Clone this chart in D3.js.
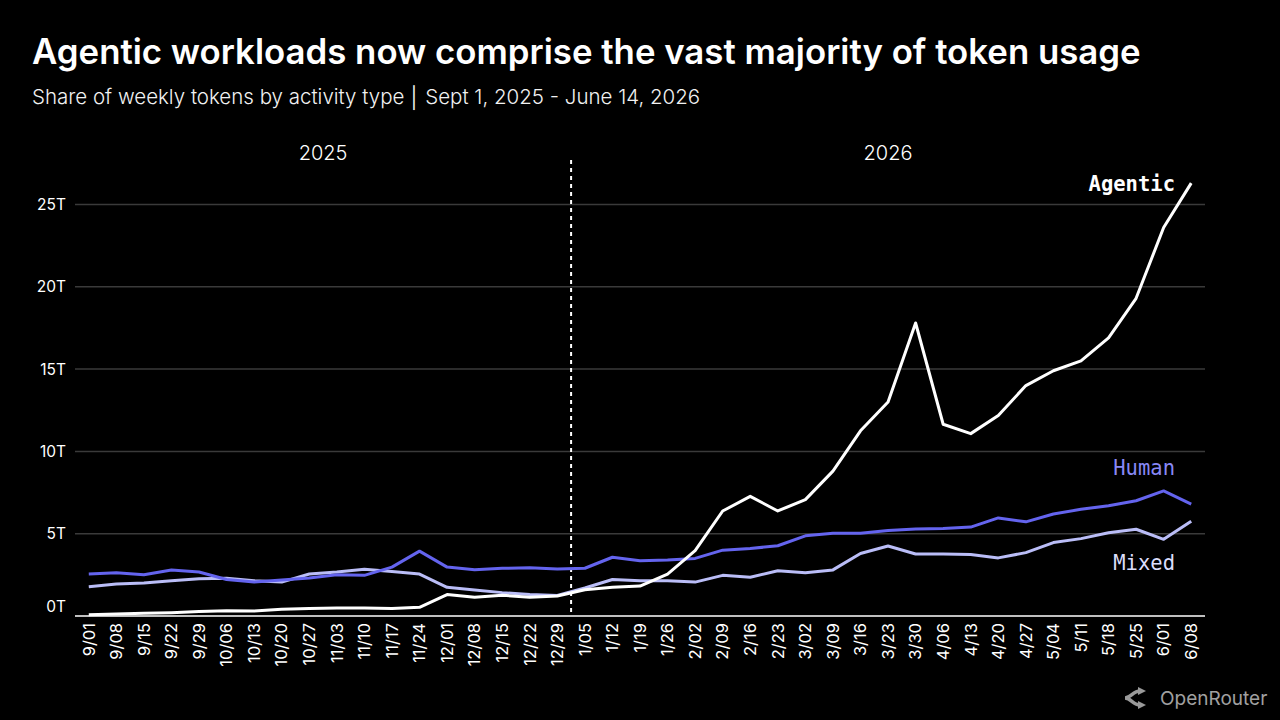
<!DOCTYPE html>
<html>
<head>
<meta charset="utf-8">
<script src="https://cdn.jsdelivr.net/npm/d3@7"></script>
<style>
  html, body { margin: 0; padding: 0; background: #000; }
  svg { display: block; font-family: Inter, "Noto Sans", sans-serif; }
</style>
</head>
<body>
<div id="chart"></div>
<script>
// weekly dates, Sept 1 2025 to June 8 2026
const weeks = ["9/01","9/08","9/15","9/22","9/29","10/06","10/13","10/20","10/27",
  "11/03","11/10","11/17","11/24","12/01","12/08","12/15","12/22","12/29",
  "1/05","1/12","1/19","1/26","2/02","2/09","2/16","2/23","3/02","3/09","3/16","3/23","3/30",
  "4/06","4/13","4/20","4/27","5/04","5/11","5/18","5/25","6/01","6/08"];

// tokens per week, in trillions
const agentic = [0.08,0.12,0.16,0.2,0.27,0.32,0.3,0.41,0.46,0.49,0.49,0.45,0.53,
  1.3,1.14,1.26,1.14,1.22,1.6,1.74,1.82,2.55,3.97,6.38,7.27,6.38,7.07,8.8,11.25,13.0,17.8,
  11.65,11.08,12.18,14.0,14.9,15.5,16.9,19.3,23.6,26.3];
const human = [2.55,2.63,2.51,2.8,2.67,2.22,2.06,2.19,2.31,2.51,2.47,2.97,3.94,
  2.97,2.81,2.9,2.93,2.85,2.9,3.57,3.36,3.4,3.5,4.0,4.1,4.27,4.87,5.03,5.03,5.2,5.28,
  5.32,5.4,5.96,5.72,6.2,6.48,6.7,7.0,7.6,6.8];
const mixed = [1.78,1.94,2.0,2.14,2.26,2.3,2.14,2.06,2.55,2.67,2.84,2.71,2.55,
  1.74,1.58,1.42,1.3,1.25,1.7,2.22,2.14,2.14,2.06,2.47,2.35,2.75,2.63,2.8,3.8,4.25,3.77,
  3.77,3.73,3.53,3.85,4.46,4.7,5.06,5.27,4.66,5.76];

const yTicks = [0, 5, 10, 15, 20, 25];
const years = [
  { label: "2025", from: "9/01", to: "12/29" },
  { label: "2026", from: "1/05", to: "6/08" }
];

const series = [
  { name: "Agentic", values: agentic, color: "#ffffff", labelColor: "#ffffff", labelY: 26.25 },
  { name: "Human", values: human, color: "#6464ee", labelColor: "#8888f6", labelY: 9.0 },
  { name: "Mixed", values: mixed, color: "#babdf7", labelColor: "#dcdefc", labelY: 3.25 }
];

const width = 1280, height = 720;
const plotLeft = 75, plotRight = 1205, plotTop = 204.5, plotBottom = 616;

const svg = d3.select("#chart").append("svg")
    .attr("width", width)
    .attr("height", height);

svg.append("rect").attr("width", width).attr("height", height).attr("fill", "#000");

// titles
svg.append("text")
    .attr("x", 32).attr("y", 64)
    .attr("fill", "#fff")
    .attr("font-size", 34.8)
    .attr("font-weight", 600)
    .text("Agentic workloads now comprise the vast majority of token usage");

const sub = svg.append("text")
    .attr("x", 32).attr("y", 104)
    .attr("fill", "#f2f2f2")
    .attr("font-size", 20.5)
    .attr("font-weight", 300);
sub.append("tspan").text("Share of weekly tokens by activity type");
sub.append("tspan").attr("dx", 4).attr("font-weight", 200).text("\u2502");
sub.append("tspan").attr("dx", 4).text("Sept 1, 2025 - June 14, 2026");

const x = d3.scalePoint()
    .domain(weeks)
    .range([plotLeft, plotRight])
    .padding(0.5);

const y = d3.scaleLinear()
    .domain([0, 25])
    .range([plotBottom, plotTop]);

// grid
svg.append("g")
    .selectAll("line")
    .data(yTicks.filter(d => d > 0))
    .enter().append("line")
    .attr("x1", plotLeft).attr("x2", plotRight)
    .attr("y1", d => y(d)).attr("y2", d => y(d))
    .attr("stroke", "#3a3a3a")
    .attr("stroke-width", 1.5);

svg.append("g")
    .selectAll("text")
    .data(yTicks)
    .enter().append("text")
    .attr("x", 66)
    .attr("y", d => d === 0 ? y(d) - 9 : y(d))
    .attr("dy", "0.35em")
    .attr("text-anchor", "end")
    .attr("fill", "#fff")
    .attr("font-size", 15.5)
    .text(d => d + "T");

// baseline
svg.append("line")
    .attr("x1", plotLeft).attr("x2", plotRight)
    .attr("y1", plotBottom).attr("y2", plotBottom)
    .attr("stroke", "#fff")
    .attr("stroke-width", 1.5);

// x labels, rotated
svg.append("g")
    .selectAll("text")
    .data(weeks)
    .enter().append("text")
    .attr("transform", d => `translate(${x(d)},${plotBottom + 7}) rotate(-90)`)
    .attr("dy", "0.35em")
    .attr("text-anchor", "end")
    .attr("fill", "#fff")
    .attr("font-size", 16.5)
    .text(d => d);

// year divider
const splitX = (x("12/29") + x("1/05")) / 2;
svg.append("line")
    .attr("x1", splitX).attr("x2", splitX)
    .attr("y1", 160).attr("y2", plotBottom)
    .attr("stroke", "#fff")
    .attr("stroke-width", 2)
    .attr("stroke-dasharray", "4,4");

const half = x.step() / 2;
svg.append("g")
    .selectAll("text")
    .data(years)
    .enter().append("text")
    .attr("x", d => ((d.from === weeks[0] ? plotLeft : x(d.from) - half) + (d.to === weeks[weeks.length - 1] ? plotRight : x(d.to) + half)) / 2)
    .attr("y", 153)
    .attr("dy", "0.35em")
    .attr("text-anchor", "middle")
    .attr("fill", "#fff")
    .attr("font-size", 20)
    .attr("font-weight", 300)
    .text(d => d.label);

// lines
const line = d3.line()
    .x((d, i) => x(weeks[i]))
    .y(d => y(d));

// draw mixed first so human and agentic sit on top
[series[2], series[1], series[0]].forEach(s => {
    svg.append("path")
        .datum(s.values)
        .attr("fill", "none")
        .attr("stroke", s.color)
        .attr("stroke-width", 3)
        .attr("stroke-linejoin", "round")
        .attr("d", line);
});

svg.append("g")
    .selectAll("text")
    .data(series)
    .enter().append("text")
    .attr("x", 1175)
    .attr("y", d => y(d.labelY))
    .attr("dy", "0.35em")
    .attr("text-anchor", "end")
    .attr("fill", d => d.labelColor)
    .style("font-family", "'DejaVu Sans Mono', 'Liberation Mono', monospace")
    .attr("font-weight", d => d.name === "Agentic" ? 700 : 400)
    .attr("font-size", 20.5)
    .text(d => d.name);

// OpenRouter mark
const logo = svg.append("g").attr("transform", "translate(1123,698)");
logo.append("path")
    .attr("d", "M2,0 C8,0 10,-7 17,-7 M2,0 C8,0 10,7 17,7")
    .attr("fill", "none")
    .attr("stroke", "#9a9a9a")
    .attr("stroke-width", 3.5);
logo.append("path")
    .attr("d", "M15,-11 L23,-7 L15,-3 Z M15,3 L23,7 L15,11 Z")
    .attr("fill", "#9a9a9a");
logo.append("text")
    .attr("x", 37).attr("y", 0)
    .attr("dy", "0.35em")
    .attr("fill", "#a0a0a0")
    .attr("font-size", 19)
    .text("OpenRouter");
</script>
</body>
</html>
